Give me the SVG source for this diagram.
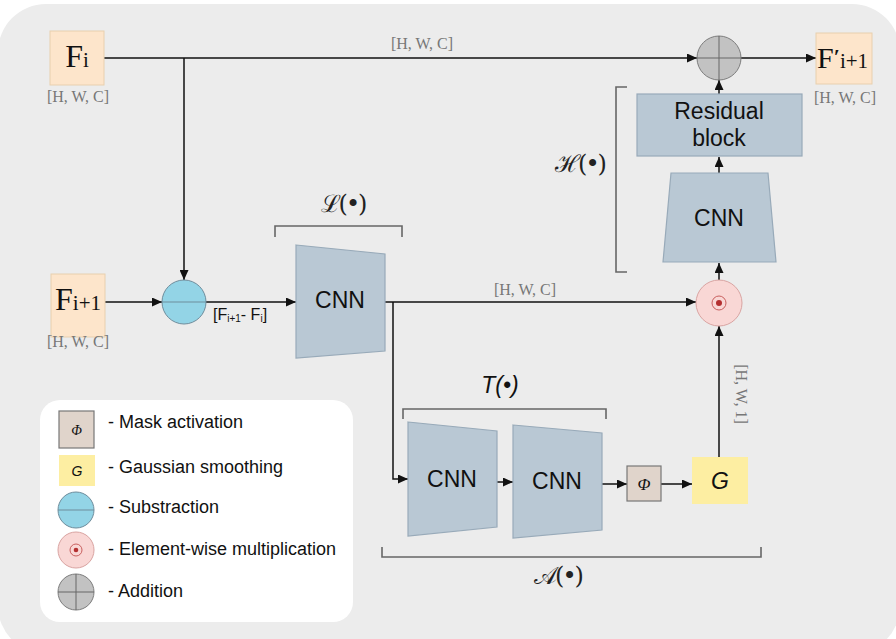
<svg xmlns="http://www.w3.org/2000/svg" width="896" height="639" viewBox="0 0 896 639">
<style>
.bg{fill:#ececec}
.feat{fill:#fde5cb;stroke:#e8cfae;stroke-width:1}
.cnn{fill:#b9c8d4;stroke:#98aab9;stroke-width:1.2}
.conn{fill:none;stroke:#111;stroke-width:1.5}
.br{fill:none;stroke:#666;stroke-width:1.6}
.serif{font-family:"Liberation Serif","Times New Roman",serif}
.sans{font-family:"Liberation Sans",Arial,sans-serif}
.dim{font-family:"Liberation Serif",serif;font-size:16px;fill:#777}
.lbl{font-family:"Liberation Sans",Arial,sans-serif;font-size:23px;fill:#111}
.math{font-family:"DejaVu Serif","Liberation Serif",serif;font-size:24px;fill:#222;letter-spacing:-2px}
.leg{font-family:"Liberation Sans",Arial,sans-serif;font-size:18px;fill:#111}
.sub{fill:#93d4e6;stroke:#6f8d9c;stroke-width:1}
.mul{fill:#f9d7d5;stroke:#d9a4a2;stroke-width:1}
.add{fill:#c2c2c2;stroke:#7d7d7d;stroke-width:1}
.phi{fill:#e0d4cb;stroke:#777;stroke-width:1.2}
.gau{fill:#fdeea2}
</style>
<defs>
<marker id="ah" markerUnits="userSpaceOnUse" markerWidth="10" markerHeight="9" refX="10" refY="4.5" orient="auto">
<path d="M0,0 L10,4.5 L0,9 z" fill="#111"/>
</marker>
</defs>
<rect class="bg" x="-2" y="4" width="902" height="650" rx="48"/>

<g id="connectors">
<path class="conn" d="M104,58 H697" marker-end="url(#ah)"/>
<path class="conn" d="M184,58 V280" marker-end="url(#ah)"/>
<path class="conn" d="M105,302 H162" marker-end="url(#ah)"/>
<path class="conn" d="M206,302 H296" marker-end="url(#ah)"/>
<path class="conn" d="M385,302 H696" marker-end="url(#ah)"/>
<path class="conn" d="M393,302 V479 H408" marker-end="url(#ah)"/>
<path class="conn" d="M497,482 H513" marker-end="url(#ah)"/>
<path class="conn" d="M602,484 H627" marker-end="url(#ah)"/>
<path class="conn" d="M661,484 H692" marker-end="url(#ah)"/>
<path class="conn" d="M719,457 V326" marker-end="url(#ah)"/>
<path class="conn" d="M719,280 V263" marker-end="url(#ah)"/>
<path class="conn" d="M719,173 V157" marker-end="url(#ah)"/>
<path class="conn" d="M719,94 V80" marker-end="url(#ah)"/>
<path class="conn" d="M741,58 H816" marker-end="url(#ah)"/>
<text class="dim" x="422" y="49" text-anchor="middle">[H, W, C]</text>
<text class="dim" x="525" y="295" text-anchor="middle">[H, W, C]</text>
<text class="dim" transform="translate(736,394) rotate(90)" text-anchor="middle">[H, W, 1]</text>
<text class="sans" x="213" y="320" font-size="16" fill="#111">[F<tspan font-size="10" dy="2">i+1</tspan><tspan dy="-2">- F</tspan><tspan font-size="10" dy="2">i</tspan><tspan dy="-2">]</tspan></text>
</g>

<g id="Fi">
<rect class="feat" x="50" y="31" width="54" height="54"/>
<text class="serif" x="77" y="67" text-anchor="middle" font-size="32" fill="#111">F<tspan font-size="21">i</tspan></text>
<text class="dim" x="78" y="102" text-anchor="middle">[H, W, C]</text>
</g>

<g id="Fi1">
<rect class="feat" x="51" y="274" width="54" height="63"/>
<text class="serif" x="78" y="310" text-anchor="middle" font-size="32" fill="#111">F<tspan font-size="21">i+1</tspan></text>
<text class="dim" x="78" y="347" text-anchor="middle">[H, W, C]</text>
</g>

<g id="Fout">
<rect class="feat" x="816" y="33" width="56" height="51"/>
<text class="serif" x="817" y="68" font-size="30" fill="#111">F<tspan font-weight="bold" font-size="22" dy="-4">′</tspan><tspan font-size="21" dy="4">i+1</tspan></text>
<text class="dim" x="845" y="103" text-anchor="middle">[H, W, C]</text>
</g>

<g id="subtract">
<circle class="sub" cx="184" cy="302" r="22"/>
<line x1="162" y1="302" x2="206" y2="302" stroke="#6f8d9c" stroke-width="1.2"/>
</g>

<g id="cnnL">
<path class="cnn" d="M296,245 L385,254 L385,351 L296,358 Z"/>
<text class="lbl" x="340" y="308" text-anchor="middle">CNN</text>
<path class="br" d="M275,237 V226 H402 V237"/>
<text class="math" x="343" y="212" text-anchor="middle">ℒ(•)</text>
</g>

<g id="cnnT1">
<path class="cnn" d="M408,422 L497,431 L497,527 L408,536 Z"/>
<text class="lbl" x="452" y="487" text-anchor="middle">CNN</text>
</g>

<g id="cnnT2">
<path class="cnn" d="M513,425 L602,433 L602,530 L513,538 Z"/>
<text class="lbl" x="557" y="489" text-anchor="middle">CNN</text>
</g>

<g id="T">
<path class="br" d="M403,419 V409 H606 V419"/>
<text class="sans" x="500" y="393" text-anchor="middle" font-size="23" font-style="italic" fill="#111">T(•)</text>
</g>

<g id="phi">
<rect class="phi" x="627" y="466" width="34" height="35"/>
<text class="serif" x="644" y="490" text-anchor="middle" font-size="17" font-style="italic" fill="#111">Φ</text>
</g>

<g id="gauss">
<rect class="gau" x="692" y="457" width="56" height="47"/>
<text class="sans" x="720" y="489" text-anchor="middle" font-size="23" font-style="italic" fill="#111">G</text>
</g>

<g id="A">
<path class="br" d="M382,547 V557 H761 V547"/>
<text class="math" x="558" y="584" text-anchor="middle">𝒜(•)</text>
</g>

<g id="mult">
<circle class="mul" cx="719" cy="303" r="23"/>
<circle cx="719" cy="303" r="7" fill="none" stroke="#c9605f" stroke-width="1"/>
<circle cx="719" cy="303" r="3" fill="#b43030"/>
</g>

<g id="cnnH">
<path class="cnn" d="M671,173 L768,173 L776,262 L663,262 Z"/>
<text class="lbl" x="719" y="226" text-anchor="middle">CNN</text>
</g>

<g id="residual">
<rect class="cnn" x="637" y="94" width="165" height="62"/>
<text class="lbl" x="719" y="119" text-anchor="middle" font-size="24">Residual</text>
<text class="lbl" x="719" y="146" text-anchor="middle" font-size="24">block</text>
</g>

<g id="H">
<path class="br" d="M627,87 H616 V272 H627"/>
<text class="math" x="580" y="172" text-anchor="middle">ℋ(•)</text>
</g>

<g id="addition">
<circle class="add" cx="719" cy="58" r="22"/>
<line x1="697" y1="58" x2="741" y2="58" stroke="#666" stroke-width="1"/>
<line x1="719" y1="36" x2="719" y2="80" stroke="#666" stroke-width="1"/>
</g>

<g id="legend">
<rect x="40" y="400" width="313" height="222" rx="20" fill="#fff"/>
<rect class="phi" x="59" y="411" width="35" height="37"/>
<text class="serif" x="76.5" y="435" text-anchor="middle" font-size="14" font-style="italic" fill="#111">Φ</text>
<text class="leg" x="108" y="428">- Mask activation</text>
<rect class="gau" x="59" y="455" width="36" height="31"/>
<text class="sans" x="77" y="476" text-anchor="middle" font-size="14" font-style="italic" fill="#111">G</text>
<text class="leg" x="108" y="473">- Gaussian smoothing</text>
<circle class="sub" cx="76" cy="510" r="18"/>
<line x1="58" y1="510" x2="94" y2="510" stroke="#6f8d9c" stroke-width="1"/>
<text class="leg" x="108" y="513">- Substraction</text>
<circle class="mul" cx="76" cy="550" r="18"/>
<circle cx="76" cy="550" r="6" fill="none" stroke="#c9605f" stroke-width="1"/>
<circle cx="76" cy="550" r="2.3" fill="#b43030"/>
<text class="leg" x="108" y="555">- Element-wise multiplication</text>
<circle class="add" cx="76" cy="592" r="18"/>
<line x1="58" y1="592" x2="94" y2="592" stroke="#666" stroke-width="1"/>
<line x1="76" y1="574" x2="76" y2="610" stroke="#666" stroke-width="1"/>
<text class="leg" x="108" y="597">- Addition</text>
</g>
</svg>
